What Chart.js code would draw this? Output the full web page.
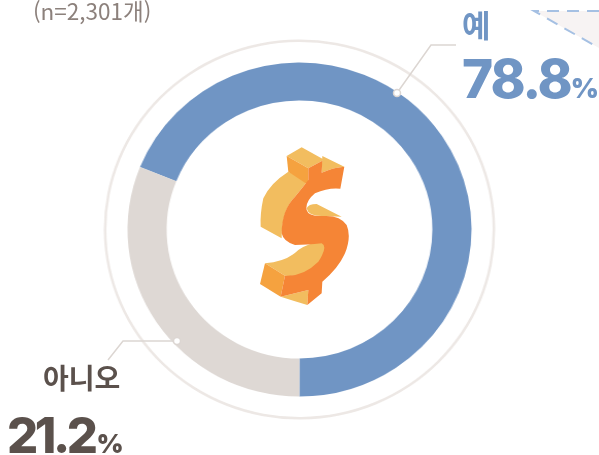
<!DOCTYPE html>
<html lang="ko">
<head>
<meta charset="utf-8">
<title>예 / 아니오</title>
<script src="https://cdn.jsdelivr.net/npm/chart.js@4/dist/chart.umd.min.js"></script>
<style>
  html, body { margin: 0; padding: 0; background: #fff; }
  #stage { position: relative; width: 599px; height: 455px; overflow: hidden;
           font-family: "Noto Sans CJK KR", "Noto Sans", sans-serif; }
  #wrap { position: absolute; left: 0; top: 1.5px; width: 599px; height: 455px;
          transform: scale(1.03, 1); transform-origin: 50% 50%; }
  svg { position: absolute; left: 0; top: 0; }
  .t { position: absolute; white-space: nowrap; line-height: 1; }
  .yes { color: #7095c4; }
  .no { color: #5b514c; }
  .num { font-family: Inter, "Noto Sans", sans-serif; font-weight: 800; }
  .pct { font-weight: 900; letter-spacing: 0; }
</style>
</head>
<body>
<div id="stage">
  <svg width="599" height="455">
    <path d="M534,11 H599 V48 Z" fill="#f7f3f3"/>
    <path d="M599,11 H534 L599,48" fill="none" stroke="#a5c0e3" stroke-width="2" stroke-dasharray="12 8"/>
  </svg>
  <div id="wrap"><canvas id="chart" width="599" height="455"></canvas></div>
  <svg width="599" height="455">
    <!-- leader lines -->
    <path d="M397,93 L431,45 H456" fill="none" stroke="#dcd6d2" stroke-width="1.5"/>
    <circle cx="397" cy="93" r="3.5" fill="#fff" stroke="#dcd6d2" stroke-width="1.5"/>
    <path d="M177,341 H123 L108,360" fill="none" stroke="#dcd6d2" stroke-width="1.5"/>
    <circle cx="177" cy="341" r="3.5" fill="#fff" stroke="#dcd6d2" stroke-width="1.5"/>
    <!-- dollar icon, traced at 3x -->
    <g transform="translate(240,130) scale(0.3333)">
      <path fill="#f2bd5f" d="M140,78 L185,52 L250,88 L247,92 L205,115 Z"/>
      <path fill="#f2bd5f" d="M247,78 L313,110 Q280,112 245,128 Z"/>
      <path fill="#f2bd5f" d="M145,125 Q90,160 70,205 Q60,250 62,290 L125,325 Q125,240 165,200 Q190,170 205,150 Z"/>
      <path fill="#f2bd5f" d="M200,235 Q205,222 230,222 L305,260 L250,258 Q205,260 200,235 Z"/>
      <path fill="#f2bd5f" d="M122,500 L205,480 L202,525 L160,512 Z"/>
      <path fill="#f2bd5f" d="M135,437 Q190,445 240,400 Q280,350 250,335 Q205,338 175,360 Q140,395 75,400 Z"/>
      <path fill="#f5a23f" d="M140,78 L205,115 L205,165 L145,125 Z"/>
      <path fill="#f5a23f" d="M75,400 L135,437 L122,500 L60,462 Z"/>
      <path fill="#f58536" d="M205,115 L247,92 L245,128 Q280,112 313,110 L301,176 Q265,172 225,190 Q195,215 200,240 Q205,260 250,258 Q300,255 320,285 Q335,320 315,370 Q295,415 247,455 L245,490 L202,525 L205,480 L122,500 L135,437 Q190,440 235,395 Q265,350 245,340 Q200,345 165,345 Q130,335 125,310 Q125,240 165,200 Q190,170 205,150 Z"/>
    </g>
  </svg>
  <div class="t" style="left:33px;top:-1px;font-size:22.5px;color:#8c817c">(n=2,301개)</div>
  <div class="t yes" style="left:462px;top:8px;font-size:31px;font-weight:700">예</div>
  <div class="t yes num" style="left:462px;top:53px;font-size:53px;letter-spacing:-2px">78.8<span class="pct" style="font-size:27px">%</span></div>
  <div class="t no" style="left:43px;top:363px;font-size:28px;font-weight:700">아니오</div>
  <div class="t no num" style="left:7px;top:411px;font-size:49px;letter-spacing:-3.5px">21.2<span class="pct" style="font-size:26px;margin-left:2px">%</span></div>
</div>
<script>
'use strict';

const categories = ['예', '아니오'];
const printedValues = [78.8, 21.2];       // what the labels say
const drawnShares = [68.9, 31.1];         // what the ring actually sweeps in the picture
const outerRingValues = [1];
const spacerValues = [1];

const sliceColors = ['#7095c4', '#ded8d4'];

new Chart(document.getElementById('chart'), {
  type: 'doughnut',
  data: {
    labels: categories,
    // first dataset is the outermost ring
    datasets: [
      { data: outerRingValues, backgroundColor: '#ede8e5', borderWidth: 0, weight: 2.5 },
      { data: spacerValues, backgroundColor: 'rgba(0,0,0,0)', borderWidth: 0, weight: 20.5 },
      { data: drawnShares, backgroundColor: sliceColors, borderWidth: 0, weight: 38 },
    ],
  },
  options: {
    responsive: false,
    animation: false,
    events: [],
    rotation: 292,
    radius: 190,
    cutout: '67.9%', // 129px hole; a bare number would be read against the chart area instead
    plugins: { legend: { display: false }, tooltip: { enabled: false } },
  },
});
</script>
</body>
</html>
